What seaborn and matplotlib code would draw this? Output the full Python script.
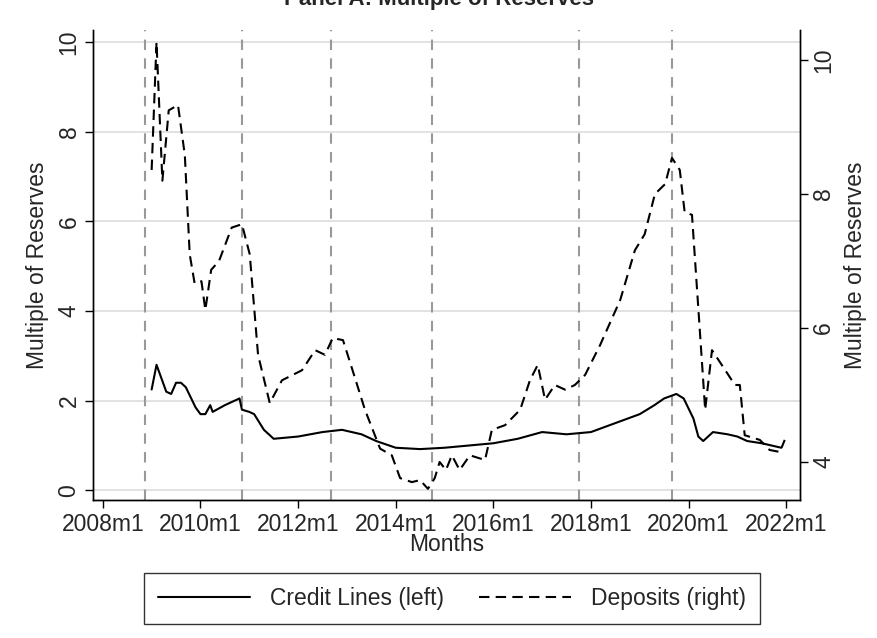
import matplotlib
matplotlib.use("Agg")
import matplotlib.pyplot as plt
import seaborn as sns
import pandas as pd

sns.set_theme(style="white")
plt.rcParams['font.family'] = ['Liberation Sans', 'DejaVu Sans']

credit_t = [2009.0,2009.1,2009.3,2009.4,2009.5,2009.6,2009.7,2009.9,2010.0,2010.1,2010.2,2010.25,2010.5,2010.7,2010.8,2010.85,
            2011.0,2011.1,2011.3,2011.5,2012.0,2012.5,2012.9,2013.3,2013.6,2014.0,2014.5,2015.0,2015.5,2016.0,2016.5,2017.0,
            2017.5,2018.0,2018.5,2019.0,2019.3,2019.5,2019.75,2019.9,2020.1,2020.2,2020.3,2020.5,2020.8,2021.0,2021.2,2021.5,2021.9]
credit_v = [2.25,2.8,2.2,2.15,2.4,2.4,2.3,1.85,1.7,1.7,1.9,1.75,1.9,2.0,2.05,1.8,
            1.75,1.7,1.35,1.15,1.2,1.3,1.35,1.25,1.1,0.95,0.92,0.95,1.0,1.05,1.15,1.3,
            1.25,1.3,1.5,1.7,1.9,2.05,2.15,2.05,1.6,1.2,1.1,1.3,1.25,1.2,1.1,1.05,0.95]

dep_t = [2009.0,2009.1,2009.22,2009.35,2009.54,2009.68,2009.78,2009.88,2010.02,2010.1,2010.22,2010.38,2010.64,2010.85,
         2011.01,2011.18,2011.28,2011.42,2011.67,2012.08,2012.35,2012.55,2012.71,2012.92,2013.06,2013.37,2013.68,2013.92,
         2014.09,2014.33,2014.5,2014.66,2014.8,2014.9,2015.03,2015.15,2015.31,2015.52,2015.83,2015.97,2016.24,2016.55,
         2016.75,2016.91,2017.06,2017.26,2017.47,2017.67,2017.88,2018.19,2018.6,2018.9,2019.1,2019.31,2019.52,2019.66,
         2019.82,2019.92,2020.07,2020.23,2020.34,2020.48,2020.68,2020.95,2021.05,2021.15,2021.46,2021.66,2021.87,2021.97]
dep_v = [8.36,10.27,8.2,9.25,9.33,8.58,7.1,6.67,6.7,6.27,6.87,7.0,7.5,7.55,
         7.1,5.6,5.3,4.88,5.22,5.37,5.67,5.6,5.85,5.82,5.5,4.78,4.2,4.1,
         3.76,3.7,3.73,3.6,3.76,4.0,3.88,4.1,3.88,4.1,4.03,4.48,4.55,4.78,
         5.22,5.45,4.93,5.15,5.08,5.15,5.3,5.75,6.42,7.16,7.4,8.0,8.15,8.54,
         8.36,7.73,7.69,5.97,4.78,5.67,5.45,5.15,5.15,4.4,4.33,4.18,4.15,4.33]

vlines = [2008.86, 2010.85, 2012.67, 2014.75, 2017.75, 2019.67]
xticks = [2008, 2010, 2012, 2014, 2016, 2018, 2020, 2022]
xlabels = ["2008m1","2010m1","2012m1","2014m1","2016m1","2018m1","2020m1","2022m1"]

cdf = pd.DataFrame({"t": credit_t, "v": credit_v})
ddf = pd.DataFrame({"t": dep_t, "v": dep_v})

FS = 16.5
fig = plt.figure(figsize=(8.78, 6.38), dpi=100)
ax = fig.add_axes([0.106, 0.216, 0.805, 0.737])
ax2 = ax.twinx()

for v in vlines:
    ax.axvline(v, color="#999999", ls=(0, (5, 4)), lw=1.5, zorder=1)
for g in [0, 2, 4, 6, 8, 10]:
    ax.axhline(g, color="#dddddd", lw=1.2, zorder=0)

sns.lineplot(data=cdf, x="t", y="v", ax=ax, color="black", lw=1.5, label="Credit Lines (left)", legend=False)
sns.lineplot(data=ddf, x="t", y="v", ax=ax2, color="black", lw=1.5, ls=(0, (5, 3)), label="Deposits (right)", legend=False)

ax.set_xlim(2007.8, 2022.28)
ax.set_ylim(-0.22, 10.27)
ax2.set_ylim(3.43, 10.45)
ax.set_xticks(xticks)
ax.set_xticklabels(xlabels, fontsize=FS)
ax.set_yticks([0, 2, 4, 6, 8, 10])
ax.set_yticklabels(["0","2","4","6","8","10"], fontsize=FS, rotation=90, va="center")
ax2.set_yticks([4, 6, 8, 10])
ax2.set_yticklabels(["4","6","8","10"], fontsize=FS, rotation=90, va="center")
ax.set_xlabel("Months", fontsize=FS, labelpad=-2)
ax.set_ylabel("Multiple of Reserves", fontsize=FS, labelpad=6)
ax2.set_ylabel("Multiple of Reserves", fontsize=FS, labelpad=6)
for a in (ax, ax2):
    a.spines["top"].set_visible(False)
    for s in ("left", "right", "bottom"):
        a.spines[s].set_color("black")
        a.spines[s].set_linewidth(1)
    a.tick_params(direction="out", length=6, width=1, color="black", left=(a is ax), bottom=True, right=(a is ax2), pad=3)

h1, l1 = ax.get_legend_handles_labels()
h2, l2 = ax2.get_legend_handles_labels()
fig.legend(h1 + h2, l1 + l2, loc="center", bbox_to_anchor=(0.515, 0.062), ncol=2, fontsize=FS,
           frameon=True, fancybox=False, edgecolor="black", handlelength=4, columnspacing=1.5,
           handletextpad=0.9, borderpad=0.6)

fig.text(0.5, 1.0, "Panel A: Multiple of Reserves", ha="center", va="center", fontsize=16, fontweight="bold")
fig.savefig("out.png", dpi=100)
